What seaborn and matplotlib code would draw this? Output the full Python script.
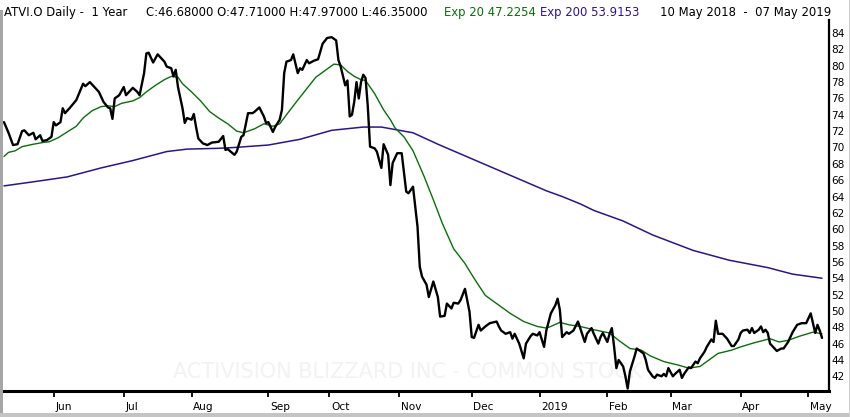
import matplotlib
matplotlib.use("Agg")
import matplotlib.pyplot as plt
from matplotlib.transforms import ScaledTranslation
from matplotlib.patches import Rectangle
import seaborn as sns
import pandas as pd

# ATVI.O daily close
close_dates = [
    "2018-05-10", "2018-05-12", "2018-05-14", "2018-05-16", "2018-05-18", "2018-05-19",
    "2018-05-21", "2018-05-23", "2018-05-24", "2018-05-26", "2018-05-27", "2018-05-29",
    "2018-05-31", "2018-06-01", "2018-06-02", "2018-06-04", "2018-06-05", "2018-06-06",
    "2018-06-08", "2018-06-11", "2018-06-14", "2018-06-15", "2018-06-17", "2018-06-19",
    "2018-06-21", "2018-06-23", "2018-06-25", "2018-06-26", "2018-06-27", "2018-06-28",
    "2018-06-30", "2018-07-02", "2018-07-03", "2018-07-04", "2018-07-06", "2018-07-08",
    "2018-07-09", "2018-07-11", "2018-07-12", "2018-07-13", "2018-07-15", "2018-07-17",
    "2018-07-20", "2018-07-21", "2018-07-23", "2018-07-24", "2018-07-25", "2018-07-26",
    "2018-07-28", "2018-07-29", "2018-07-30", "2018-08-01", "2018-08-02", "2018-08-03",
    "2018-08-04", "2018-08-06", "2018-08-08", "2018-08-10", "2018-08-13", "2018-08-15",
    "2018-08-16", "2018-08-17", "2018-08-20", "2018-08-21", "2018-08-23", "2018-08-24",
    "2018-08-26", "2018-08-28", "2018-08-29", "2018-08-31", "2018-09-02", "2018-09-03",
    "2018-09-04", "2018-09-06", "2018-09-07", "2018-09-09", "2018-09-10", "2018-09-11",
    "2018-09-12", "2018-09-14", "2018-09-15", "2018-09-17", "2018-09-18", "2018-09-19",
    "2018-09-21", "2018-09-22", "2018-09-24", "2018-09-26", "2018-09-28", "2018-09-30",
    "2018-10-02", "2018-10-04", "2018-10-05", "2018-10-06", "2018-10-08", "2018-10-09",
    "2018-10-10", "2018-10-11", "2018-10-12", "2018-10-13", "2018-10-14", "2018-10-15",
    "2018-10-16", "2018-10-17", "2018-10-18", "2018-10-19", "2018-10-21", "2018-10-22",
    "2018-10-24", "2018-10-25", "2018-10-27", "2018-10-28", "2018-10-29", "2018-10-31",
    "2018-11-02", "2018-11-04", "2018-11-05", "2018-11-07", "2018-11-08", "2018-11-09",
    "2018-11-10", "2018-11-11", "2018-11-13", "2018-11-14", "2018-11-16", "2018-11-18",
    "2018-11-19", "2018-11-21", "2018-11-22", "2018-11-24", "2018-11-25", "2018-11-27",
    "2018-11-28", "2018-11-30", "2018-12-02", "2018-12-03", "2018-12-04", "2018-12-06",
    "2018-12-07", "2018-12-09", "2018-12-11", "2018-12-14", "2018-12-15", "2018-12-16",
    "2018-12-18", "2018-12-20", "2018-12-21", "2018-12-22", "2018-12-24", "2018-12-26",
    "2018-12-27", "2018-12-29", "2018-12-30", "2019-01-01", "2019-01-02", "2019-01-04",
    "2019-01-05", "2019-01-07", "2019-01-09", "2019-01-10", "2019-01-11", "2019-01-12",
    "2019-01-14", "2019-01-15", "2019-01-17", "2019-01-19", "2019-01-20", "2019-01-22",
    "2019-01-23", "2019-01-25", "2019-01-26", "2019-01-28", "2019-01-29", "2019-01-30",
    "2019-02-01", "2019-02-02", "2019-02-03", "2019-02-04", "2019-02-05", "2019-02-06",
    "2019-02-08", "2019-02-09", "2019-02-10", "2019-02-11", "2019-02-13", "2019-02-14",
    "2019-02-15", "2019-02-17", "2019-02-18", "2019-02-19", "2019-02-21", "2019-02-22",
    "2019-02-23", "2019-02-25", "2019-02-26", "2019-02-27", "2019-02-28", "2019-03-02",
    "2019-03-03", "2019-03-05", "2019-03-06", "2019-03-07", "2019-03-09", "2019-03-10",
    "2019-03-12", "2019-03-13", "2019-03-14", "2019-03-16", "2019-03-17", "2019-03-19",
    "2019-03-20", "2019-03-21", "2019-03-22", "2019-03-24", "2019-03-26", "2019-03-28",
    "2019-03-29", "2019-03-31", "2019-04-01", "2019-04-02", "2019-04-04", "2019-04-05",
    "2019-04-06", "2019-04-07", "2019-04-09", "2019-04-10", "2019-04-11", "2019-04-12",
    "2019-04-13", "2019-04-14", "2019-04-16", "2019-04-17", "2019-04-19", "2019-04-20",
    "2019-04-22", "2019-04-23", "2019-04-24", "2019-04-26", "2019-04-28", "2019-04-30",
    "2019-05-01", "2019-05-02", "2019-05-03", "2019-05-04", "2019-05-05", "2019-05-06",
    "2019-05-07",
]
close_values = [
    73.1, 71.8, 70.3, 70.4, 72.0, 72.1,
    71.5, 71.8, 71.0, 71.5, 70.8, 70.9,
    71.3, 73.1, 72.7, 73.1, 74.8, 74.2,
    74.8, 75.8, 77.8, 77.5, 78.0, 77.4,
    76.8, 75.6, 74.9, 74.8, 73.5, 76.0,
    76.4, 77.4, 76.4, 76.7, 77.3, 76.8,
    76.4, 79.1, 81.5, 81.6, 80.4, 81.4,
    80.5, 79.9, 79.7, 78.7, 79.5, 77.4,
    74.8, 73.0, 73.6, 73.4, 74.1, 72.5,
    71.1, 70.5, 70.3, 70.6, 70.7, 71.4,
    69.7, 69.8, 69.1, 69.5, 71.3, 71.5,
    74.2, 74.2, 74.4, 74.9, 73.8, 73.0,
    73.1, 71.9, 72.5, 73.4, 74.6, 79.1,
    80.5, 80.7, 81.4, 79.1, 79.7, 79.5,
    80.7, 80.3, 80.6, 80.8, 82.7, 83.4,
    83.5, 83.1, 80.7, 79.9, 77.6, 78.2,
    73.8, 74.0, 75.6, 78.0, 76.0, 78.0,
    78.9, 78.5, 75.0, 70.1, 69.9, 69.5,
    67.5, 70.4, 69.1, 65.4, 68.1, 69.3,
    69.3, 64.6, 64.4, 65.2, 62.7, 60.3,
    55.4, 54.2, 53.2, 51.7, 53.6, 51.7,
    49.3, 49.4, 50.9, 50.3, 51.0, 50.9,
    51.3, 52.7, 49.9, 46.8, 46.7, 48.3,
    47.6, 48.1, 48.5, 48.7, 48.1, 47.6,
    47.2, 47.4, 46.6, 47.2, 46.0, 44.2,
    46.0, 46.9, 47.2, 47.0, 47.4, 45.6,
    47.6, 49.7, 50.7, 51.5, 50.1, 46.8,
    47.4, 47.2, 47.6, 48.7, 47.9, 46.2,
    47.2, 47.9, 47.2, 46.0, 46.8, 47.3,
    46.2, 47.2, 47.9, 45.6, 43.0, 44.0,
    43.2, 42.0, 40.5, 42.6, 44.4, 45.4,
    45.2, 44.8, 44.0, 42.8, 42.0, 41.8,
    42.2, 42.0, 42.3, 42.0, 43.0, 42.0,
    42.3, 42.8, 41.8, 42.3, 43.1, 43.0,
    43.8, 43.6, 44.2, 45.0, 45.6, 46.5,
    46.2, 48.8, 47.2, 47.2, 46.6, 45.7,
    45.7, 46.5, 47.3, 47.6, 47.7, 47.3,
    47.9, 47.3, 47.7, 48.1, 47.4, 47.7,
    47.3, 46.0, 45.4, 45.1, 45.4, 45.4,
    46.2, 46.8, 47.4, 48.3, 48.5, 48.5,
    49.1, 49.7, 48.5, 47.3, 48.3, 47.6,
    46.7,
]

# exponential moving average, 20 periods
ema20_dates = [
    "2018-05-10", "2018-05-12", "2018-05-15", "2018-05-18", "2018-05-23", "2018-05-27",
    "2018-05-30", "2018-06-03", "2018-06-07", "2018-06-11", "2018-06-14", "2018-06-18",
    "2018-06-22", "2018-06-25", "2018-06-28", "2018-07-01", "2018-07-06", "2018-07-09",
    "2018-07-12", "2018-07-16", "2018-07-20", "2018-07-23", "2018-07-26", "2018-07-28",
    "2018-08-01", "2018-08-05", "2018-08-09", "2018-08-13", "2018-08-17", "2018-08-21",
    "2018-08-24", "2018-08-29", "2018-09-02", "2018-09-06", "2018-09-09", "2018-09-12",
    "2018-09-17", "2018-09-21", "2018-09-25", "2018-09-30", "2018-10-03", "2018-10-06",
    "2018-10-09", "2018-10-12", "2018-10-15", "2018-10-17", "2018-10-21", "2018-10-25",
    "2018-10-28", "2018-10-30", "2018-11-03", "2018-11-07", "2018-11-12", "2018-11-16",
    "2018-11-20", "2018-11-25", "2018-11-30", "2018-12-04", "2018-12-09", "2018-12-15",
    "2018-12-20", "2018-12-26", "2019-01-01", "2019-01-05", "2019-01-07", "2019-01-11",
    "2019-01-15", "2019-01-20", "2019-01-26", "2019-02-02", "2019-02-06", "2019-02-11",
    "2019-02-16", "2019-02-20", "2019-02-26", "2019-03-04", "2019-03-09", "2019-03-14",
    "2019-03-18", "2019-03-22", "2019-03-28", "2019-04-01", "2019-04-07", "2019-04-14",
    "2019-04-18", "2019-04-22", "2019-04-27", "2019-05-03", "2019-05-07",
]
ema20_values = [
    68.9, 69.4, 69.6, 70.1, 70.4, 70.6,
    70.7, 71.2, 71.9, 72.6, 73.6, 74.5,
    75.0, 75.1, 75.0, 75.4, 75.7, 76.1,
    76.8, 77.6, 78.3, 78.7, 78.6, 77.8,
    76.8, 75.7, 74.4, 73.6, 72.9, 72.0,
    71.8, 72.3, 72.9, 72.6, 72.9, 74.0,
    75.8, 77.2, 78.6, 79.6, 80.2, 80.1,
    79.3, 78.7, 78.3, 78.2, 76.6, 74.6,
    73.4, 72.4, 71.3, 69.6, 66.4, 63.6,
    60.7, 57.6, 55.8, 54.0, 51.9, 50.7,
    49.7, 48.7, 48.1, 47.9, 48.1, 48.6,
    48.3, 48.1, 47.7, 47.3, 46.4, 45.4,
    45.2, 44.5, 43.8, 43.4, 43.0, 43.2,
    44.0, 44.8, 45.2, 45.6, 46.1, 46.6,
    46.2, 46.4, 46.9, 47.4, 47.2,
]

# exponential moving average, 200 periods
ema200_dates = [
    "2018-05-10", "2018-05-23", "2018-06-07", "2018-06-22", "2018-07-06", "2018-07-21",
    "2018-07-30", "2018-08-13", "2018-08-20", "2018-09-04", "2018-09-18", "2018-10-02",
    "2018-10-16", "2018-10-24", "2018-10-30", "2018-11-07", "2018-11-18", "2018-12-04",
    "2018-12-20", "2019-01-05", "2019-01-12", "2019-01-20", "2019-01-26", "2019-02-08",
    "2019-02-21", "2019-03-11", "2019-03-27", "2019-04-13", "2019-04-24", "2019-05-07",
]
ema200_values = [
    65.3, 65.8, 66.4, 67.5, 68.4, 69.5,
    69.8, 69.9, 70.0, 70.3, 71.0, 72.1,
    72.5, 72.5, 72.2, 71.8, 70.4, 68.5,
    66.6, 64.7, 64.0, 63.1, 62.3, 61.0,
    59.3, 57.4, 56.2, 55.3, 54.5, 54.0,
]

month_ticks = ["2018-06-01", "2018-07-02", "2018-08-01", "2018-09-04", "2018-10-01",
               "2018-11-01", "2018-12-03", "2019-01-02", "2019-02-01", "2019-03-01",
               "2019-04-01", "2019-05-01"]
month_labels = ["Jun", "Jul", "Aug", "Sep", "Oct", "Nov", "Dec", "2019",
                "Feb", "Mar", "Apr", "May"]
price_ticks = list(range(42, 85, 2))

GREEN = "#0b6e0b"
PURPLE = "#2e1488"

close = pd.DataFrame({"date": pd.to_datetime(close_dates), "value": close_values})
ema20 = pd.DataFrame({"date": pd.to_datetime(ema20_dates), "value": ema20_values})
ema200 = pd.DataFrame({"date": pd.to_datetime(ema200_dates), "value": ema200_values})

sns.set_theme(style="white")
plt.rcParams["font.family"] = ["DejaVu Sans"]

W, H = 850, 417
fig = plt.figure(figsize=(W / 100, H / 100), dpi=100)
ax = fig.add_axes([3 / W, (H - 391) / H, (828.7 - 3) / W, (391 - 20) / H])

sns.lineplot(data=ema200, x="date", y="value", ax=ax, color=PURPLE, lw=1.1)
sns.lineplot(data=ema20, x="date", y="value", ax=ax, color=GREEN, lw=1.0)
sns.lineplot(data=close, x="date", y="value", ax=ax, color="black", lw=1.7)

start = pd.Timestamp("2018-05-10")
ax.set_xlim(start - pd.Timedelta(hours=10.5), start + pd.Timedelta(days=364.96))
ax.set_ylim(40.2, 85.6)
ax.set_xlabel("")
ax.set_ylabel("")

for side in ["top", "left"]:
    ax.spines[side].set_visible(False)
ax.spines["right"].set_linewidth(1.6)
ax.spines["bottom"].set_linewidth(2.2)
for side in ["right", "bottom"]:
    ax.spines[side].set_color("black")

ax.yaxis.tick_right()
ax.set_yticks(price_ticks)
ax.set_yticklabels([str(v) for v in price_ticks])
ax.tick_params(axis="y", length=0, pad=2, labelsize=7.6, colors="black")

ax.set_xticks(pd.to_datetime(month_ticks))
ax.set_xticklabels(month_labels)
ax.tick_params(axis="x", length=4.5, width=1.3, direction="out", pad=3.2,
               labelsize=7.6, colors="black", bottom=True)
shift = ScaledTranslation(1.5 / 100, 0, fig.dpi_scale_trans)
for lab in ax.get_xticklabels():
    lab.set_horizontalalignment("left")
    lab.set_transform(lab.get_transform() + shift)

# faint watermark
ax.text(173 / W, 1 - 372 / H, "ACTIVISION BLIZZARD INC - COMMON STOCK",
        transform=fig.transFigure, fontsize=15, color="#f2f2f2",
        va="center", ha="left", zorder=0, clip_on=False)

# header line
hy = 1 - 16 / H
fs = 8.4
fig.text(4 / W, hy, "ATVI.O Daily -  1 Year", fontsize=fs, color="black", va="baseline")
fig.text(146 / W, hy, "C:46.68000 O:47.71000 H:47.97000 L:46.35000",
         fontsize=fs, color="black", va="baseline")
fig.text(444 / W, hy, "Exp 20 47.2254", fontsize=fs, color=GREEN, va="baseline")
fig.text(540 / W, hy, "Exp 200 53.9153", fontsize=fs, color=PURPLE, va="baseline")
fig.text(660 / W, hy, "10 May 2018  -  07 May 2019", fontsize=fs, color="black",
         va="baseline")

# window frame
fig.add_artist(Rectangle((0, 0), 2.7 / W, (H - 10) / H, transform=fig.transFigure,
                         facecolor="#a6a6a6", edgecolor="none"))
fig.add_artist(Rectangle((0, 0), 1, 4 / H, transform=fig.transFigure,
                         facecolor="#c4c4c4", edgecolor="none"))
fig.add_artist(Rectangle((848.5 / W, 0), 1.5 / W, 1, transform=fig.transFigure,
                         facecolor="#d0d0d0", edgecolor="none"))

fig.savefig("out.png", dpi=100)
